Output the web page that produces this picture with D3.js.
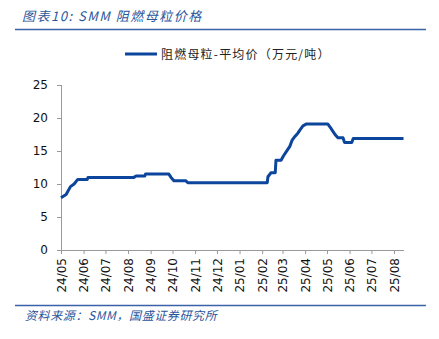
<!DOCTYPE html>
<html><head><meta charset="utf-8">
<script src="https://cdn.jsdelivr.net/npm/d3@7"></script>
<style>body{margin:0;background:#fff}svg{display:block}</style>
</head><body>
<script>
const dates = ["2024-05-01","2024-05-08","2024-05-14","2024-05-19","2024-05-24","2024-06-06","2024-06-07","2024-08-09","2024-08-12","2024-08-24","2024-08-25","2024-09-26","2024-09-29","2024-10-03","2024-10-19","2024-10-22","2025-02-08","2025-02-09","2025-02-13","2025-02-19","2025-02-20","2025-02-27","2025-03-02","2025-03-08","2025-03-11","2025-03-14","2025-03-18","2025-03-22","2025-03-25","2025-03-29","2025-04-03","2025-05-02","2025-05-06","2025-05-12","2025-05-16","2025-05-23","2025-05-25","2025-06-04","2025-06-06","2025-08-14"];
const prices = [7.9,8.4,9.6,10.0,10.7,10.7,11.0,11.0,11.2,11.2,11.5,11.5,11.0,10.5,10.5,10.2,10.2,11.1,11.7,11.7,13.6,13.6,14.2,15.2,15.7,16.6,17.2,17.7,18.2,18.8,19.1,19.1,18.5,17.5,17.0,17.0,16.3,16.3,16.9,16.9];
const yTicks = [0,5,10,15,20,25];
const monthTicks = ["2024-05-01","2024-06-01","2024-07-01","2024-08-01","2024-09-01","2024-10-01","2024-11-01","2024-12-01","2025-01-01","2025-02-01","2025-03-01","2025-04-01","2025-05-01","2025-06-01","2025-07-01","2025-08-01"];
const seriesName = "阻燃母粒-平均价（万元/吨）";
const titleText = "图表10:  SMM 阻燃母粒价格";
const sourceText = "资料来源：SMM，国盛证券研究所";

const W = 439, H = 339;
const parse = d3.utcParse("%Y-%m-%d");
const data = dates.map((d,i)=>({date:parse(d), v:prices[i]}));
const svg = d3.select("body").append("svg").attr("width",W).attr("height",H);
const font = "'Noto Sans CJK SC','DejaVu Sans',sans-serif";
const blue = "#0b459c";

// title
svg.append("text").attr("x",22).attr("y",21).attr("fill","#2a569c")
  .attr("font-family",font).attr("font-size",13).attr("font-style","italic")
  .attr("letter-spacing",1.5).text(titleText);
svg.append("line").attr("x1",15).attr("x2",426).attr("y1",29.5).attr("y2",29.5)
  .attr("stroke","#3a62a8").attr("stroke-width",1.5);

const x = d3.scaleUtc().domain([parse("2024-05-01"), parse("2025-08-14")]).range([61,403.5]);
const y = d3.scaleLinear().domain([0,25]).range([250,85]);

// y axis
const ya = svg.append("g").attr("transform","translate(61,0)")
  .call(d3.axisLeft(y).tickValues(yTicks).tickSize(4).tickPadding(9));
// x axis
const xa = svg.append("g").attr("transform","translate(0,250)")
  .call(d3.axisBottom(x).tickValues(monthTicks.map(parse)).tickFormat(d3.utcFormat("%y/%m")).tickSize(4).tickSizeOuter(0));
[ya,xa].forEach(g=>{
  g.select(".domain").attr("stroke","#9a9a9a");
  g.selectAll(".tick line").attr("stroke","#9a9a9a");
  g.selectAll("text").attr("font-family","'DejaVu Sans',sans-serif").attr("font-size",12).attr("fill","#111");
});
ya.select(".domain").attr("d","M0.5,85V250.5");
xa.selectAll(".tick text").attr("transform","rotate(-90)").attr("text-anchor","end")
  .attr("x",-8).attr("y",0).attr("dy","0.35em");

// line
svg.append("path").datum(data).attr("fill","none").attr("stroke",blue).attr("stroke-width",3)
  .attr("stroke-linejoin","round")
  .attr("d",d3.line().x(d=>x(d.date)).y(d=>y(d.v)));

// legend
svg.append("line").attr("x1",125).attr("x2",157).attr("y1",54).attr("y2",54).attr("stroke",blue).attr("stroke-width",3);
svg.append("text").attr("x",161).attr("y",58.5).attr("font-family",font).attr("font-size",12).attr("fill","#222")
  .attr("letter-spacing",1.2).text(seriesName);

// footer
svg.append("line").attr("x1",15).attr("x2",426).attr("y1",305.5).attr("y2",305.5)
  .attr("stroke","#3a62a8").attr("stroke-width",1.5);
svg.append("text").attr("x",25).attr("y",320).attr("fill","#2a569c")
  .attr("font-family",font).attr("font-size",12).attr("font-style","italic")
  .attr("letter-spacing",0.6).text(sourceText);
</script>
</body></html>
